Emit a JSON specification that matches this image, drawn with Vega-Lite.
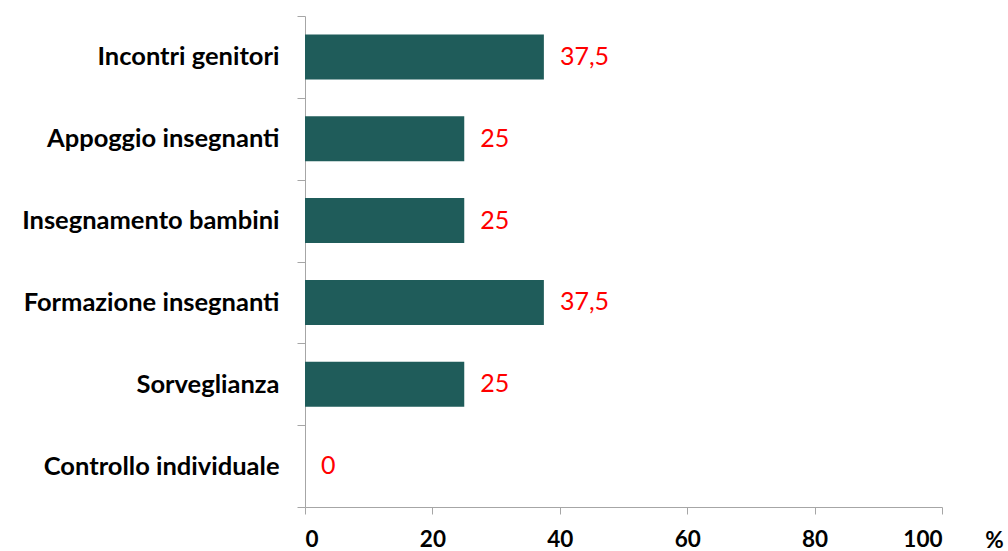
{
  "$schema": "https://vega.github.io/schema/vega-lite/v6.json",
  "width": 637,
  "height": 491,
  "autosize": "none",
  "padding": {"left": 305, "top": 16, "right": 66, "bottom": 44},
  "background": "white",
  "config": {
    "view": {"stroke": null},
    "locale": {"number": {"decimal": ",", "thousands": ".", "grouping": [3], "currency": ["", " €"]}},
    "font": "Lato"
  },
  "data": {
    "values": [
      {"categoria": "Incontri genitori", "valore": 37.5},
      {"categoria": "Appoggio insegnanti", "valore": 25},
      {"categoria": "Insegnamento bambini", "valore": 25},
      {"categoria": "Formazione insegnanti", "valore": 37.5},
      {"categoria": "Sorveglianza", "valore": 25},
      {"categoria": "Controllo individuale", "valore": 0}
    ]
  },
  "encoding": {
    "y": {
      "field": "categoria",
      "type": "nominal",
      "sort": null,
      "scale": {"paddingInner": 0, "paddingOuter": 0},
      "axis": {
        "title": null,
        "tickBand": "extent",
        "domainColor": "#a6a6a6",
        "tickColor": "#a6a6a6",
        "tickSize": 8,
        "labelFont": "Lato",
        "labelFontSize": 25.5,
        "labelFontWeight": "bold",
        "labelColor": "black",
        "labelPadding": 18,
        "labelLimit": 400
      }
    }
  },
  "layer": [
    {
      "mark": {"type": "bar", "height": {"band": 0.55}, "color": "#1f5c5a"},
      "encoding": {
        "x": {
          "field": "valore",
          "type": "quantitative",
          "scale": {"domain": [0, 100], "nice": false},
          "axis": {
            "values": [0, 20, 40, 60, 80, 100],
            "grid": false,
            "domainColor": "#a6a6a6",
            "tickColor": "#a6a6a6",
            "tickSize": 7,
            "labelFont": "Lato",
            "labelFontSize": 22.5,
            "labelFontWeight": "bold",
            "labelColor": "black",
            "labelPadding": 14,
            "title": "%",
            "titleFont": "Lato",
            "titleFontSize": 22.5,
            "titleFontWeight": "bold",
            "titleColor": "black",
            "titleAnchor": "start",
            "titleAlign": "center",
            "titleX": 689,
            "titleY": 40,
            "titleBaseline": "alphabetic"
          }
        }
      }
    },
    {
      "mark": {"type": "text", "align": "left", "baseline": "middle", "dx": 16, "color": "#ff0000", "fontSize": 25, "font": "Lato"},
      "encoding": {
        "x": {"field": "valore", "type": "quantitative"},
        "text": {"field": "valore", "type": "quantitative", "format": ".1~f"}
      }
    }
  ]
}
